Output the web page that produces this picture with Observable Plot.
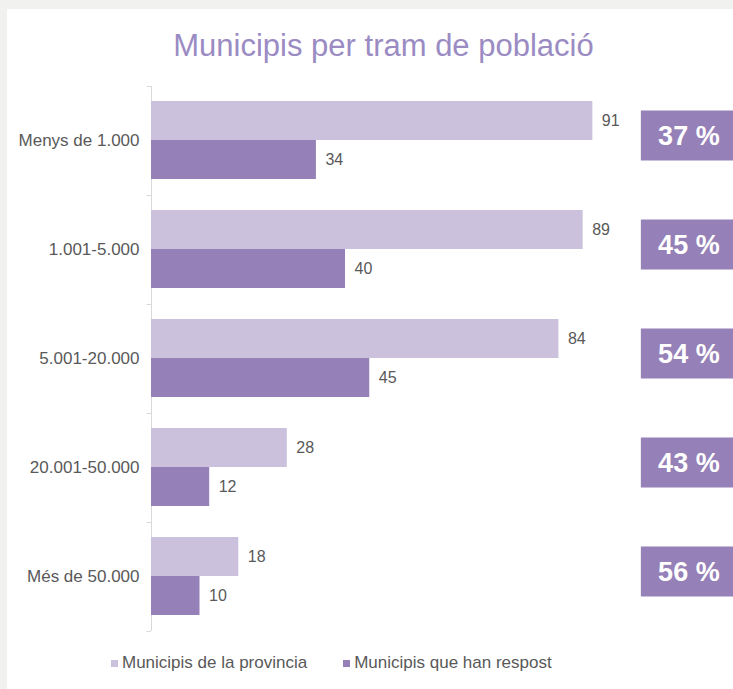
<!DOCTYPE html>
<html><head><meta charset="utf-8">
<script src="https://cdn.jsdelivr.net/npm/d3@7"></script>
<script src="https://cdn.jsdelivr.net/npm/@observablehq/plot@0.6"></script>
<style>
html,body{margin:0;padding:0;background:#f1f1ef;width:733px;height:689px;overflow:hidden;font-family:"Liberation Sans",Arial,sans-serif;}
#panel{position:absolute;left:7px;top:9px;width:726px;height:680px;background:#fff;}
#title{position:absolute;left:17px;top:28px;width:733px;text-align:center;font-size:31px;line-height:36px;color:#9b8bc3;white-space:nowrap;}
#chart{position:absolute;left:0;top:70px;}
#legend{position:absolute;left:111px;top:653px;font-size:17px;line-height:20px;color:#595959;display:flex;align-items:center;white-space:nowrap;}
#legend .item{display:flex;align-items:center;}
#legend .sw{width:7px;height:7px;margin-right:4px;}
</style>
</head><body>
<div id="panel"></div>
<div id="title">Municipis per tram de població</div>
<div id="chart"></div>
<div id="legend"></div>
<script>
// ---- data ----
const categories = ["Menys de 1.000", "1.001-5.000", "5.001-20.000", "20.001-50.000", "Més de 50.000"];
const provincia = [91, 89, 84, 28, 18];
const respost = [34, 40, 45, 12, 10];
const percentLabels = ["37 %", "45 %", "54 %", "43 %", "56 %"];
const seriesNames = ["Municipis de la provincia", "Municipis que han respost"];

// ---- style ----
const LIGHT = "#cbc1dd";
const DARK = "#9580b7";
const GRAY = "#595959";
const AXIS = "#d9d9d9";
const HALF = 54.5;          // half band step (px)
const BOX_X1 = 101, BOX_X2 = 125, BOX_XC = 110.8; // box placement in x units (layout)

const rows = categories.map((c, i) => ({cat: c, prov: provincia[i], resp: respost[i], pct: percentLabels[i]}));

const chart = Plot.plot({
  width: 733, height: 575,
  marginTop: 16, marginBottom: 14, marginLeft: 151, marginRight: 0,
  style: {background: "transparent", color: GRAY, fontFamily: "'Liberation Sans', Arial, sans-serif"},
  x: {domain: [0, 120], axis: null},
  y: {domain: categories, padding: 0, axis: null},
  marks: [
    Plot.axisY({tickSize: 0, tickPadding: 12, fontSize: 17, label: null}),
    Plot.ruleX([0], {stroke: AXIS}),
    Plot.ruleY(categories, {y: d => d, dy: -HALF, x1: -0.9, x2: 0, stroke: AXIS}),
    Plot.ruleY([categories[categories.length - 1]], {y: d => d, dy: HALF, x1: -0.9, x2: 0, stroke: AXIS}),
    Plot.barX(rows, {y: "cat", x: "prov", fill: LIGHT, insetTop: 15, insetBottom: 55}),
    Plot.barX(rows, {y: "cat", x: "resp", fill: DARK, insetTop: 54, insetBottom: 16}),
    Plot.text(rows, {y: "cat", x: "prov", text: d => String(d.prov), dx: 9, dy: -20, textAnchor: "start", fill: GRAY, fontSize: 16}),
    Plot.text(rows, {y: "cat", x: "resp", text: d => String(d.resp), dx: 9, dy: 19, textAnchor: "start", fill: GRAY, fontSize: 16}),
    Plot.barX(rows, {y: "cat", x1: BOX_X1, x2: BOX_X2, fill: DARK, insetTop: 29.5, insetBottom: 29.5, dy: -5}),
    Plot.text(rows, {y: "cat", x: BOX_XC, text: "pct", fill: "white", fontWeight: "bold", fontSize: 27, dy: -5})
  ]
});
document.getElementById("chart").appendChild(chart);

// legend
const legend = document.getElementById("legend");
[LIGHT, DARK].forEach((col, i) => {
  const it = document.createElement("div");
  it.className = "item";
  if (i > 0) it.style.marginLeft = "36px";
  const sw = document.createElement("div");
  sw.className = "sw"; sw.style.background = col;
  const tx = document.createElement("span");
  tx.textContent = seriesNames[i];
  it.appendChild(sw); it.appendChild(tx);
  legend.appendChild(it);
});
</script>
</body></html>
